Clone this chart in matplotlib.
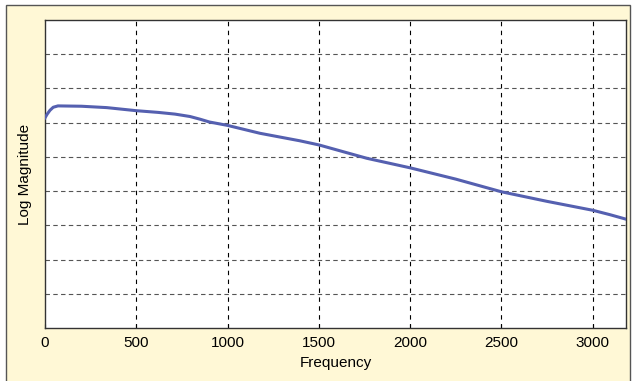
import matplotlib.pyplot as plt
import matplotlib.patches as patches

# Values (frequency, log magnitude in grid units)
freq = [0, 12, 27, 45, 71, 200, 338, 500, 620, 712, 794, 850, 900, 1000,
        1177, 1396, 1500, 1762, 2000, 2250, 2500, 2750, 3000, 3095, 3182]
log_mag = [6.14, 6.25, 6.36, 6.45, 6.49, 6.48, 6.44, 6.35, 6.30, 6.25, 6.18,
           6.10, 6.02, 5.92, 5.69, 5.47, 5.35, 4.96, 4.68, 4.35, 3.98, 3.70,
           3.44, 3.31, 3.18]
x_ticks = [0, 500, 1000, 1500, 2000, 2500, 3000]

plt.rcParams['font.family'] = ['Liberation Sans', 'DejaVu Sans']

W, H = 634, 381
fig = plt.figure(figsize=(W / 100, H / 100), dpi=100)
fig.patch.set_facecolor("white")

# light yellow panel with a grey frame (bottom edge is cut off)
bg = patches.Rectangle((6 / W, -0.01), (630 - 6) / W, (H - 5) / H + 0.01,
                       transform=fig.transFigure, facecolor="#fff8d6",
                       edgecolor="#555555", linewidth=1.0, zorder=-10)
fig.patches.append(bg)

ax = fig.add_axes([45 / W, (H - 328) / H, (626 - 45) / W, (328 - 20) / H])
ax.set_facecolor("white")

ax.plot(freq, log_mag, color="#5560b0", linewidth=2.2, zorder=3)

ax.set_xlim(0, 3182)
ax.set_ylim(0, 9)
ax.set_xticks(x_ticks)
ax.set_yticks(range(1, 9))
ax.set_yticklabels([])
ax.tick_params(axis="x", direction="in", length=3, labelsize=11, pad=6)
ax.tick_params(axis="y", length=0)

for v in x_ticks[1:]:
    ax.axvline(v, color="black", linestyle=(0, (4, 4)), linewidth=0.8, zorder=1)
for v in range(1, 9):
    ax.axhline(v, color="#555555", linestyle=(0, (4, 3)), linewidth=0.8, zorder=1)

for s in ax.spines.values():
    s.set_color("#333333")
    s.set_linewidth(1.0)

ax.set_xlabel("Frequency", fontsize=11, labelpad=4)
ax.set_ylabel("Log Magnitude", fontsize=11, labelpad=6)

fig.savefig("out.png", dpi=100)
